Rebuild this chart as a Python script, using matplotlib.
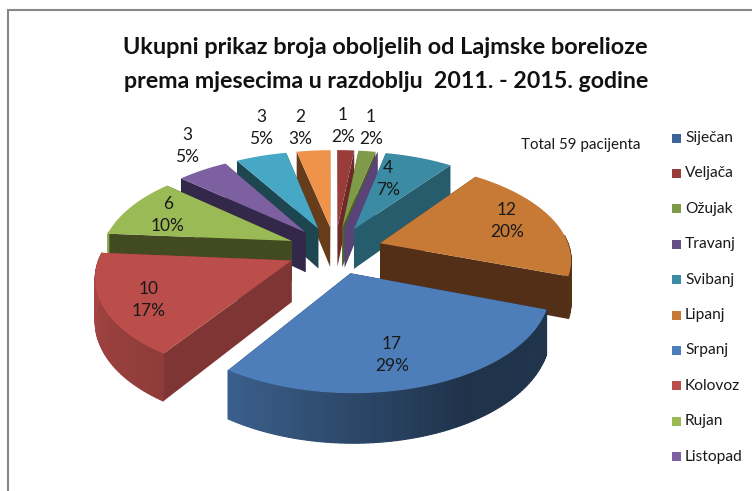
import numpy as np
import matplotlib
matplotlib.use("Agg")
import matplotlib.pyplot as plt
from matplotlib.patches import Polygon, Rectangle

# --- data ---
months = ["Siječan", "Veljača", "Ožujak", "Travanj", "Svibanj", "Lipanj",
          "Srpanj", "Kolovoz", "Rujan", "Listopad", "Studeni", "Prosinac"]
cases = [0, 1, 1, 0, 4, 12, 17, 10, 6, 3, 3, 2]
title_lines = ["Ukupni prikaz broja oboljelih od Lajmske borelioze",
               "prema mjesecima u razdoblju  2011. - 2015. godine"]
note = "Total 59 pacijenta"
legend_shown = months[:10]

# --- styles ---
top_colors = ["#3c6499", "#9a3c3a", "#7f9a48", "#664f85", "#3a8ba3", "#c67a36",
              "#4d7eb9", "#bb4e4b", "#9aba56", "#7d60a0", "#46a8c4", "#f0934a"]
radial_colors = ["#26405f", "#6e2a28", "#4f6029", "#5a4378", "#265c6b", "#522f16",
                 "#1d324b", "#7f3533", "#414a20", "#33284a", "#1e4650", "#673c1a"]
label_pos = {1: (343, 126), 2: (371, 128), 4: (388, 179), 5: (507, 221), 6: (392, 355),
             7: (149, 300), 8: (168, 215), 9: (187, 146), 10: (261, 128), 11: (300, 128)}

CX, CY, R, B, K, EXPLODE, H = 335.0, 250.0, 190.0, 0.498, 0.147, 0.25, 41.0
FONT = "Lato"
TEXT = "#1a1a1a"

fig = plt.figure(figsize=(7.52, 4.91), dpi=100)
ax = fig.add_axes([0, 0, 1, 1])
ax.set_xlim(0, 752)
ax.set_ylim(491, 0)
ax.axis("off")

# chart frame (left and top edges of the cropped chart area)
ax.plot([8, 8, 752], [491, 10, 10], color="#888888", lw=1.5, solid_joinstyle="miter", zorder=1)


def project(X, Y, drop=0.0):
    p = 1.0 / (1.0 + K * Y)
    return CX + X * R * p, CY - Y * R * B * p + drop * p


def shade(color, f):
    c = np.array(matplotlib.colors.to_rgb(color))
    return tuple(c * f)


total = sum(cases)
edges = np.concatenate([[0], np.cumsum(cases)]) / total * 2 * np.pi
slices = []
for i in range(len(cases)):
    a0, a1 = edges[i], edges[i + 1]
    mid = (a0 + a1) / 2
    slices.append((np.cos(mid), i, a0, a1, mid))
# far slices first
slices.sort(key=lambda s: -s[0])

for _, i, a0, a1, mid in slices:
    ex, ey = EXPLODE * np.sin(mid), EXPLODE * np.cos(mid)
    n = max(2, int((a1 - a0) / 0.02))
    th = np.linspace(a0, a1, n)
    XX, YY = ex + np.sin(th), ey + np.cos(th)
    tx, ty = project(XX, YY)
    bx, by = project(XX, YY, H)
    atx, aty = project(ex, ey)
    abx, aby = project(ex, ey, H)
    # radial walls
    for k in (0, -1):
        ax.add_patch(Polygon([(atx, aty), (tx[k], ty[k]), (bx[k], by[k]), (abx, aby)],
                             closed=True, fc=radial_colors[i], ec="none", zorder=2))
    if cases[i] > 0:
        # outer wall, shaded along the arc
        for j in range(n - 1):
            t = np.degrees(th[j])
            if t > 85 and t < 275:
                f = np.interp(t, [100, 150, 213, 270], [0.42, 0.40, 0.76, 0.90])
                col = shade(top_colors[i], f)
                ax.add_patch(Polygon([(tx[j], ty[j]), (tx[j + 1], ty[j + 1]),
                                      (bx[j + 1], by[j + 1]), (bx[j], by[j])],
                                     closed=True, fc=col, ec=col, lw=0.8, zorder=2))
        # top face
        ax.add_patch(Polygon(list(zip(tx, ty)) + [(atx, aty)], closed=True,
                             fc=top_colors[i], ec="none", zorder=2))

for i, (x, y) in label_pos.items():
    ax.text(x, y, f"{cases[i]}\n{round(cases[i] / total * 100)}%", ha="center", va="center",
            fontsize=12.5, family=FONT, color=TEXT, linespacing=1.4, zorder=5)

ax.text(385, 47, title_lines[0], ha="center", va="center", fontsize=16.9, family=FONT,
        weight="bold", color="#111111")
ax.text(386, 81, title_lines[1], ha="center", va="center", fontsize=16.65, family=FONT,
        weight="bold", color="#111111")
ax.text(581, 145, note, ha="center", va="center", fontsize=10.9, family=FONT, color=TEXT)

for row, name in enumerate(legend_shown):
    y = 138 + row * 35.4
    ax.add_patch(Rectangle((672, y - 4.5), 9, 9, fc=top_colors[row], ec="none", zorder=3))
    ax.text(685, y, name, ha="left", va="center", fontsize=11.2, family=FONT, color=TEXT)

fig.savefig("out.png", dpi=100)
